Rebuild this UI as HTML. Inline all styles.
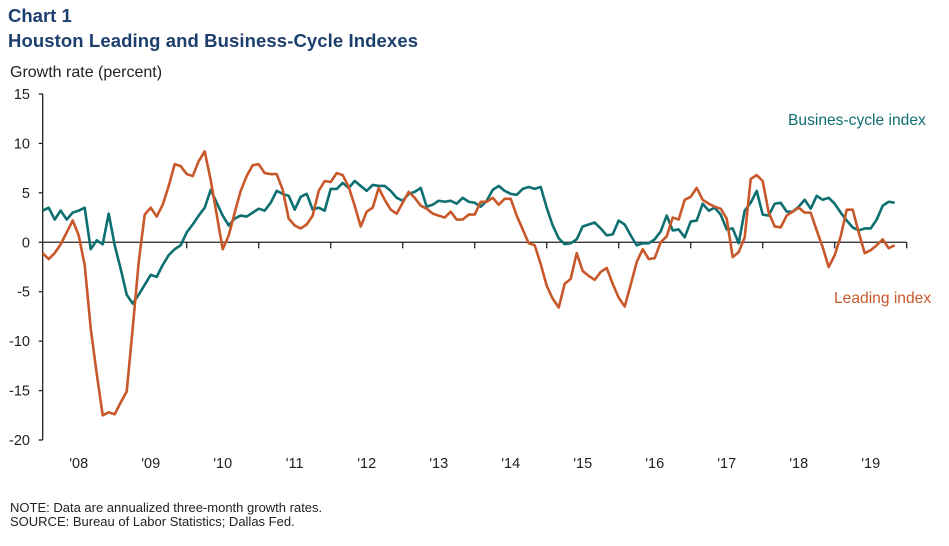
<!DOCTYPE html>
<html><head><meta charset="utf-8"><style>
body{margin:0;background:#fff;width:949px;height:541px;overflow:hidden;font-family:"Liberation Sans",Arial,sans-serif}
</style></head><body>
<svg width="949" height="541" xmlns="http://www.w3.org/2000/svg">
<text x="8" y="22" font-size="18.5" font-weight="bold" fill="#1d3f6e">Chart 1</text>
<text x="8" y="47" font-size="18.5" font-weight="bold" fill="#1d3f6e" textLength="410">Houston Leading and Business-Cycle Indexes</text>
<text x="10" y="77" font-size="16" fill="#222">Growth rate (percent)</text>
<g id="axes"></g>
<g id="series"></g>
<text x="788" y="125" font-size="15.6" fill="#0e6f70">Busines-cycle index</text>
<text x="834" y="303" font-size="15.6" fill="#c8582a">Leading index</text>
<text x="10" y="512" font-size="13" fill="#222">NOTE: Data are annualized three-month growth rates.</text>
<text x="10" y="526" font-size="13" fill="#222">SOURCE: Bureau of Labor Statistics; Dallas Fed.</text>
</svg>
<script>
const yTicks=[15,10,5,0,-5,-10,-15,-20];
const yearLabels=["'08","'09","'10","'11","'12","'13","'14","'15","'16","'17","'18","'19"];
const businessCycle=[3.2,3.5,2.3,3.2,2.3,3.0,3.2,3.5,-0.7,0.2,-0.2,2.9,-0.3,-2.7,-5.3,-6.2,-5.3,-4.3,-3.3,-3.5,-2.3,-1.3,-0.7,-0.3,1.0,1.8,2.7,3.5,5.3,4.0,2.7,1.7,2.4,2.7,2.6,3.0,3.4,3.2,4.0,5.2,4.9,4.7,3.3,4.6,4.9,3.3,3.5,3.2,5.4,5.4,6.0,5.5,6.2,5.7,5.2,5.8,5.7,5.7,5.2,4.5,4.2,4.9,5.1,5.5,3.6,3.8,4.2,4.1,4.2,3.9,4.5,4.1,4.0,3.6,4.2,5.3,5.7,5.2,4.9,4.8,5.4,5.6,5.4,5.6,3.5,1.7,0.4,-0.2,-0.1,0.3,1.6,1.8,2.0,1.4,0.7,0.8,2.2,1.8,0.7,-0.3,-0.1,-0.1,0.3,1.1,2.7,1.2,1.3,0.5,2.1,2.2,3.9,3.2,3.5,2.8,1.3,1.4,-0.1,3.2,4.0,5.2,2.8,2.7,3.9,4.0,3.1,3.1,3.6,4.3,3.4,4.7,4.3,4.5,3.9,3.0,2.2,1.5,1.2,1.4,1.4,2.3,3.7,4.1,4.0];
const leading=[-1.1,-1.7,-1.1,-0.2,1.0,2.2,0.7,-2.3,-8.7,-13.3,-17.5,-17.2,-17.4,-16.2,-15.1,-8.7,-2.0,2.8,3.5,2.6,3.8,5.7,7.9,7.7,6.9,6.7,8.2,9.2,6.3,2.8,-0.7,0.7,3.0,5.2,6.7,7.8,7.9,7.0,6.9,6.9,5.3,2.4,1.7,1.4,1.8,2.7,5.2,6.2,6.1,7.0,6.8,5.6,3.7,1.6,3.1,3.5,5.5,4.3,3.3,2.9,4.0,5.1,4.5,3.7,3.4,2.9,2.7,2.5,3.1,2.3,2.3,2.8,2.8,4.1,4.1,4.5,3.8,4.4,4.4,2.7,1.3,-0.1,-0.3,-2.2,-4.4,-5.7,-6.6,-4.2,-3.7,-1.1,-2.9,-3.4,-3.8,-3.0,-2.6,-4.2,-5.6,-6.5,-4.3,-2.0,-0.7,-1.7,-1.6,0.0,0.6,2.5,2.3,4.3,4.6,5.5,4.3,3.9,3.6,3.4,2.4,-1.5,-1.0,0.5,6.4,6.8,6.2,3.0,1.6,1.5,2.7,3.1,3.5,3.0,3.0,1.2,-0.5,-2.5,-1.3,0.6,3.3,3.3,1.0,-1.1,-0.8,-0.3,0.3,-0.6,-0.3];
const NS="http://www.w3.org/2000/svg";
const x0=42.7,mw=6,yTop=94,yBot=440;
const xScale=i=>x0+i*mw;
const yScale=v=>yTop+(15-v)*(yBot-yTop)/35;
function mk(t,a){const e=document.createElementNS(NS,t);for(const k in a)e.setAttribute(k,a[k]);return e;}
const ax=document.getElementById('axes');
let yl=mk('line',{x1:x0,y1:yTop,x2:x0,y2:yBot,stroke:'#222','stroke-width':1.3});


ax.appendChild(yl);
yTicks.forEach(v=>{
 const y=yScale(v);
 ax.appendChild(mk('line',{x1:x0-4,y1:y,x2:x0,y2:y,stroke:'#222','stroke-width':1.3}));
 const t=mk('text',{x:30,y:y+5,'font-size':14.5,'text-anchor':'end',fill:'#222'});
 t.textContent=v;
 
 
 ax.appendChild(t);
});
const zy=yScale(0),xEnd=xScale(yearLabels.length*12);
let xl=mk('line',{x1:x0,y1:zy,x2:xEnd,y2:zy,stroke:'#222','stroke-width':1.3});


ax.appendChild(xl);
yearLabels.forEach((l,k)=>{
 const xb=xScale((k+1)*12);
 ax.appendChild(mk('line',{x1:xb,y1:zy,x2:xb,y2:zy+6,stroke:'#222','stroke-width':1.3}));
 const t=mk('text',{x:xScale(k*12+6),y:468,'font-size':14.5,'text-anchor':'middle',fill:'#222'});
 t.textContent=l;
 
 
 ax.appendChild(t);
});
const sg=document.getElementById('series');
function line(arr,color,name){
 const p=mk('polyline',{points:arr.map((v,i)=>xScale(i)+','+yScale(v)).join(' '),fill:'none',stroke:color,'stroke-width':2.6,'stroke-linejoin':'round'});
 
 
 sg.appendChild(p);
}
line(businessCycle,'#0e6f70','business-cycle-line');
line(leading,'#c8582a','leading-index-line');
</script>
</body></html>
